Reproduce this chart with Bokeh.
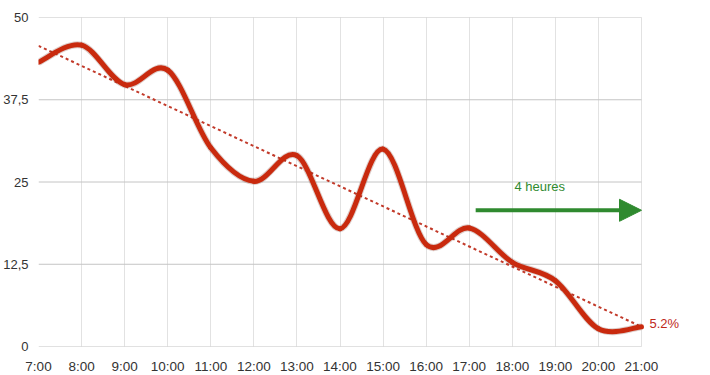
import numpy as np
from bokeh.plotting import figure
from bokeh.models import Range1d, FixedTicker, Label, Arrow, NormalHead
from bokeh.embed import file_html
from bokeh.resources import INLINE

# ---- data ----
hours = [7, 8, 9, 10, 11, 12, 13, 14, 15, 16, 17, 18, 19, 20, 21]
values = [43.2, 45.8, 39.8, 42.0, 30.2, 25.1, 29.0, 17.9, 30.0, 15.5, 18.0, 12.8, 10.0, 2.7, 3.0]
hour_labels = ["%d:00" % h for h in hours]
y_ticks = [0, 12.5, 25, 37.5, 50]
y_tick_labels = ["0", "12,5", "25", "37,5", "50"]
trend_x = [7, 21]
trend_y = [45.7, 3.0]
arrow_x = [17.15, 21]
arrow_y = [20.7, 20.7]
arrow_text = "4 heures"
end_text = "5.2%"

FONT = "Liberation Sans"
HOUR_PX = 603 / 14.0
X_END = hours[-1] + 64 / HOUR_PX  # room on the right for the end label

p = figure(frame_width=667, frame_height=329, output_backend="svg", toolbar_location=None,
           x_range=Range1d(hours[0], X_END), y_range=Range1d(0, 50),
           min_border_left=30, min_border_right=0, min_border_top=17, min_border_bottom=0)
p.outline_line_color = None
p.background_fill_color = "white"
p.border_fill_color = "white"

p.xaxis.ticker = FixedTicker(ticks=hours)
p.xaxis.major_label_overrides = {h: l for h, l in zip(hours, hour_labels)}
p.yaxis.ticker = FixedTicker(ticks=y_ticks)
p.yaxis.major_label_overrides = {t: l for t, l in zip(y_ticks, y_tick_labels)}
for ax in (p.xaxis, p.yaxis):
    ax.axis_line_color = None
    ax.major_tick_line_color = None
    ax.minor_tick_line_color = None
    ax.major_tick_out = 0
    ax.major_tick_in = 0
    ax.major_label_text_font = FONT
    ax.major_label_text_color = "#333333"
p.xaxis.major_label_text_font_size = "13.5px"
p.yaxis.major_label_text_font_size = "13px"
p.xaxis.major_label_standoff = 12
p.yaxis.major_label_standoff = 10

p.xgrid.grid_line_color = "#c4c4c4"
p.xgrid.grid_line_dash = "1 1"
p.xgrid.grid_line_width = 1
p.ygrid.grid_line_color = None

# horizontal grid lines, only across the hour span
p.segment(x0=[hours[0]] * len(y_ticks), x1=[hours[-1]] * len(y_ticks), y0=y_ticks, y1=y_ticks,
          line_color="#c4c4c4", line_width=1)

# trend line
p.line(trend_x, trend_y, line_color="#c23a2a", line_width=2, line_dash="3 3")

# smooth curve: Catmull-Rom -> cubic Bezier segments
x = np.array(hours, dtype=float)
y = np.array(values, dtype=float)
xp = np.concatenate([[x[0]], x, [x[-1]]])
yp = np.concatenate([[y[0]], y, [y[-1]]])
x0, y0 = x[:-1], y[:-1]
x1, y1 = x[1:], y[1:]
cx0 = x0 + (xp[2:-1] - xp[0:-3]) / 6.0
cy0 = y0 + (yp[2:-1] - yp[0:-3]) / 6.0
cx1 = x1 - (xp[3:] - xp[1:-2]) / 6.0
cy1 = y1 - (yp[3:] - yp[1:-2]) / 6.0
p.bezier(x0=x0, y0=y0, x1=x1, y1=y1, cx0=cx0, cy0=cy0, cx1=cx1, cy1=cy1,
         line_color="#6a2010", line_width=7, line_alpha=0.22, line_cap="butt")
p.bezier(x0=x0, y0=y0, x1=x1, y1=y1, cx0=cx0, cy0=cy0, cx1=cx1, cy1=cy1,
         line_color="#c92a0e", line_width=5, line_cap="round")

# arrow
p.add_layout(Arrow(x_start=arrow_x[0], y_start=arrow_y[0], x_end=arrow_x[1], y_end=arrow_y[1],
                   line_color="#2f8a2f", line_width=4,
                   end=NormalHead(size=22, fill_color="#2f8a2f", line_color="#2f8a2f")))
p.add_layout(Label(x=18.05, y=24.3, text=arrow_text, text_font=FONT, text_font_size="13px",
                   text_color="#2f8a2f", text_baseline="middle", text_align="left"))
p.add_layout(Label(x=trend_x[1], y=trend_y[1], x_offset=8, y_offset=3, text=end_text,
                   text_font=FONT, text_font_size="13px", text_color="#c0281a",
                   text_baseline="middle", text_align="left"))

open("out.html", "w").write(file_html(p, INLINE))
